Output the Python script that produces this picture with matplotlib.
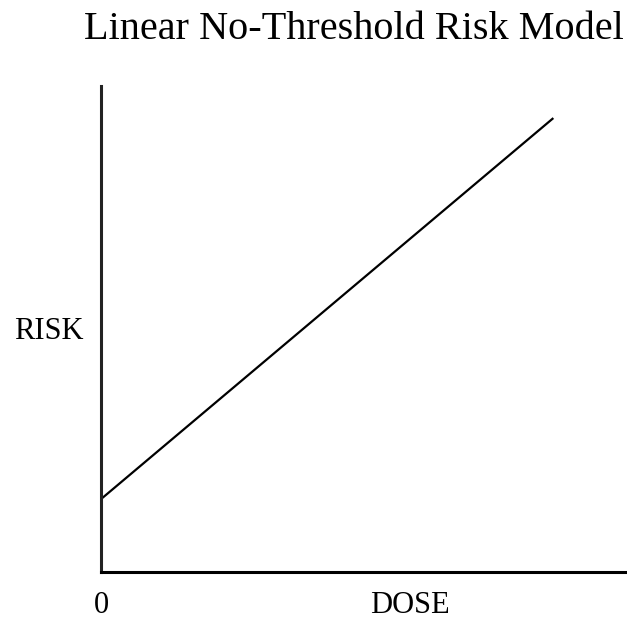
import matplotlib
matplotlib.use("Agg")
import matplotlib.pyplot as plt

dose = [0.0, 8.6]
risk = [1.5, 9.34]
title = "Linear No-Threshold Risk Model"
x_label = "DOSE"
y_label = "RISK"
origin_label = "0"

plt.rcParams['font.family'] = ['Liberation Serif', 'DejaVu Serif']

W, H = 627, 619
fig = plt.figure(figsize=(W/100, H/100), dpi=100)
ax = fig.add_axes([101/W, (H-572)/H, (W-101)/W, (572-86)/H])
ax.plot(dose, risk, color='black', lw=1.6, solid_capstyle='butt')
ax.set_xlim(0, 10)
ax.set_ylim(0, 10)
for s in ['top', 'right']:
    ax.spines[s].set_visible(False)
ax.spines['left'].set_linewidth(2.2)
ax.spines['left'].set_color('#222222')
ax.spines['bottom'].set_linewidth(2.2)
ax.spines['bottom'].set_color('black')
ax.set_xticks([])
ax.set_yticks([])

fig.text(354/W, 1-39/H, title, ha='center', va='baseline', fontsize=29)
fig.text(49/W, 1-339/H, y_label, ha='center', va='baseline', fontsize=22)
fig.text(101/W, 1-613/H, origin_label, ha='center', va='baseline', fontsize=22)
fig.text(410/W, 1-613/H, x_label, ha='center', va='baseline', fontsize=22)

fig.savefig("out.png", dpi=100, facecolor='white')
